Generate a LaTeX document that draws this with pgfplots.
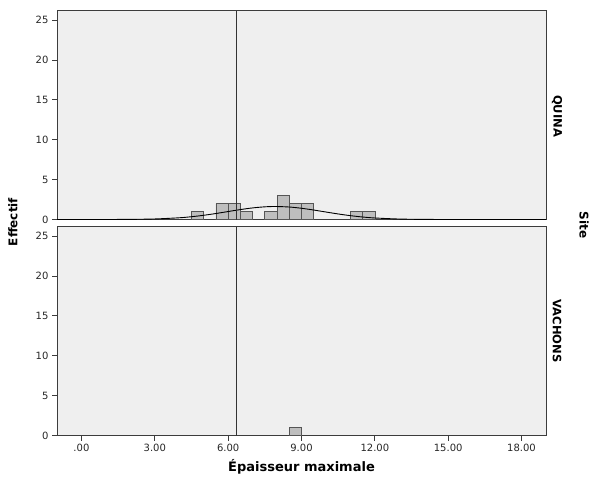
\documentclass[border=0pt]{standalone}
\usepackage{fontspec}
\setmainfont{DejaVu Sans}
\usepackage{pgfplots}
\pgfplotsset{compat=1.18}
\definecolor{panelbg}{HTML}{EFEFEF}
\definecolor{barfill}{HTML}{BEBEBE}
\definecolor{barline}{HTML}{555555}
\definecolor{framec}{HTML}{3C3C3C}
\begin{document}
\begin{tikzpicture}[x=1pt,y=1pt]
\pgfplotsset{
  panel/.style={
    scale only axis, width=489pt, height=209pt,
    xmin=-1, xmax=19, ymin=0, ymax=26.2,
    axis background/.style={fill=panelbg},
    axis line style={framec, line width=1pt},
    ytick={0,5,10,15,20,25},
    tick style={framec, line width=0.8pt},
    tick align=outside, major tick length=5pt,
    ytick pos=left, xtick pos=bottom,
    tick label style={font=\fontsize{10}{11}\selectfont, text=black!85},
    /pgf/number format/assume math mode=true,
  },
  histbar/.style={ybar, bar width=0.5, bar shift=0pt, fill=barfill, draw=barline, line width=0.7pt},
  refline/.style={black!80, line width=0.7pt},
}
% top panel: QUINA
\begin{axis}[panel, anchor=north west, at={(57pt,-10.5pt)}, xtick=\empty]
\addplot[histbar] coordinates {(4.75,1) (5.75,2) (6.25,2) (6.75,1) (7.75,1) (8.25,3) (8.75,2) (9.25,2) (11.25,1) (11.75,1)};
\addplot[black, line width=0.9pt, smooth, no marks] coordinates {
(-1,0) (0,0.0004) (1,0.003) (2,0.0165) (3,0.068) (4,0.216) (4.5,0.349) (5,0.529) (5.5,0.751) (6,0.999) (6.5,1.244) (7,1.453) (7.5,1.589) (7.94,1.63) (8.5,1.565) (9,1.408) (9.5,1.187) (10,0.938) (10.5,0.695) (11,0.482) (11.5,0.313) (12,0.191) (13,0.058) (14,0.0137) (15,0.002) (16,0.0003) (19,0)};
\addplot[refline, no marks] coordinates {(6.34,0) (6.34,26.2)};
\end{axis}
% bottom panel: VACHONS
\begin{axis}[panel, anchor=north west, at={(57pt,-226.5pt)},
  xtick={0,3,6,9,12,15,18},
  xticklabels={.00,3.00,6.00,9.00,12.00,15.00,18.00}]
\addplot[histbar] coordinates {(8.75,1)};
\addplot[refline, no marks] coordinates {(6.34,0) (6.34,26.2)};
\end{axis}
\node[rotate=90, font=\bfseries\fontsize{12}{13}\selectfont] at (13,-222) {Effectif};
\node[rotate=-90, font=\bfseries\fontsize{11.5}{12}\selectfont] at (557,-116) {QUINA};
\node[rotate=-90, font=\bfseries\fontsize{11.5}{12}\selectfont] at (557,-331) {VACHONS};
\node[rotate=-90, font=\bfseries\fontsize{12}{13}\selectfont] at (584,-225) {Site};
\node[font=\bfseries\fontsize{13}{15}\selectfont] at (301.5,-467) {Épaisseur maximale};
\pgfresetboundingbox
\path[use as bounding box] (0,0) rectangle (598,-482);
\end{tikzpicture}
\end{document}
